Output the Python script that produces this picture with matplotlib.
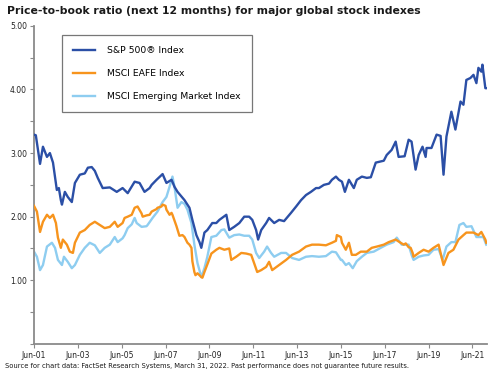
import matplotlib
matplotlib.use("Agg")
import matplotlib.pyplot as plt

# months since Jun-2001
sp_m = [0, 1, 3.3, 4.9, 7.1, 8.7, 10.4, 12.5, 13.6, 14.7, 15.3, 16.9, 18.5, 20.7, 22.4, 25.1, 27.8, 29.5,
        31.6, 33.3, 34.9, 37.6, 41.5, 45.3, 48.5, 51.3, 55.1, 57.8, 60.5, 63.3, 64.4, 67.1, 70.4, 72.5,
        75.3, 76.9, 78.6, 82.4, 85.1, 86.7, 88.9, 90.6, 91.6, 93.3, 94.9, 97.6, 99.8, 101.5, 105.3, 106.9,
        109.6, 112.4, 115.1, 117.8, 119.5, 121.6, 122.7, 124.4, 127.1, 128.7, 131.5, 134.2, 136.9, 140.7,
        143.5, 146.2, 148.9, 151.6, 154.4, 156, 158.7, 161.5, 163.1, 165.3, 166.9, 168.6, 170.2, 172.4,
        175.1, 176.7, 179.5, 182.2, 184.4, 187.1, 191.5, 193.1, 195.8, 198, 199.6, 202.9, 205.1, 206.7,
        208.9, 210.6, 212.7, 214.4, 214.9, 217.6, 220.4, 222.6, 224.2, 225.8, 228.5, 230.7, 233.5, 235.1,
        236.7, 238.9, 240.6, 242.2, 243.3, 244.9, 245.5, 247.1, 247.6]
sp_v = [3.29, 3.28, 2.83, 3.10, 2.94, 3.00, 2.85, 2.42, 2.45, 2.26, 2.19, 2.39, 2.31, 2.23, 2.53, 2.66, 2.68, 2.77,
        2.78, 2.72, 2.61, 2.45, 2.46, 2.39, 2.45, 2.37, 2.55, 2.53, 2.39, 2.45, 2.50, 2.58, 2.67, 2.53,
        2.58, 2.47, 2.39, 2.26, 2.14, 1.95, 1.71, 1.60, 1.51, 1.75, 1.79, 1.90, 1.90, 1.95, 2.03, 1.79,
        1.84, 1.90, 2.00, 2.00, 1.95, 1.79, 1.64, 1.79, 1.90, 1.98, 1.90, 1.95, 1.93, 2.06,
        2.16, 2.26, 2.34, 2.39, 2.45, 2.45, 2.50, 2.52, 2.58, 2.63, 2.58, 2.55, 2.39, 2.58,
        2.45, 2.58, 2.63, 2.61, 2.62, 2.85, 2.88, 2.97, 3.05, 3.18, 2.94, 2.95, 3.21, 3.18,
        2.74, 2.97, 3.10, 2.94, 3.08, 3.08, 3.29, 3.27, 2.66, 3.26, 3.65, 3.37, 3.81, 3.76,
        4.15, 4.18, 4.23, 4.10, 4.34, 4.28, 4.39, 4.02, 4.02]

eafe_m = [0, 1.6, 3.3, 4.9, 7.1, 8.7, 10.4, 12, 13.1, 14.7, 15.8, 18, 19.6, 21.3, 22.4, 25.1, 27.8, 30.5,
          33.3, 36, 38.7, 41.5, 44.2, 45.8, 48.5, 49.6, 51.3, 53.5, 55.1, 56.7, 58.9, 59.5, 61.6, 63.3, 64.4,
          67.1, 67.6, 69.8, 70.4, 72, 72.5, 74.2, 75.3, 75.8, 78, 79.6, 81.3, 82.4, 84, 85.1, 86.2, 86.7, 87.8,
          88.4, 89.5, 90.6, 91.6, 92.2, 93.3, 94.9, 97.1, 99.8, 101.5, 104.2, 106.9, 108, 110.7, 113.5, 116.2,
          118.9, 120.5, 122.2, 124.4, 127.1, 128.7, 130.4, 134.2, 138, 141.3, 145.1, 148.9, 152.2, 156,
          159.8, 163.1, 165.3, 165.8, 168, 168.6, 170.7, 172.4, 174, 176.2, 178.9, 182.2, 184.9, 187.7,
          191.5, 194.2, 198, 200.7, 202.4, 203.5, 205.1, 206.2, 207.3, 207.8, 210.6, 213.3, 216, 218.7,
          221.5, 224.2, 226.9, 229.6, 232.4, 235.1, 236.7, 240.6, 243.3, 244.9, 247.1, 247.6]
eafe_v = [2.17, 2.08, 1.76, 1.92, 2.03, 1.98, 2.03, 1.90, 1.67, 1.51, 1.64, 1.56, 1.45, 1.43, 1.59, 1.75, 1.79, 1.87,
          1.92, 1.87, 1.82, 1.84, 1.92, 1.84, 1.90, 1.98, 2.00, 2.03, 2.14, 2.16, 2.05, 2.00, 2.02, 2.03, 2.08,
          2.12, 2.14, 2.16, 2.19, 2.17, 2.11, 2.03, 2.06, 2.03, 1.85, 1.70, 1.71, 1.68, 1.59, 1.56, 1.51, 1.30,
          1.13, 1.08, 1.11, 1.08, 1.05, 1.04, 1.13, 1.25, 1.42, 1.48, 1.51, 1.48, 1.50, 1.32, 1.37, 1.43, 1.42,
          1.40, 1.27, 1.13, 1.16, 1.21, 1.29, 1.16, 1.24, 1.32, 1.40, 1.45, 1.53, 1.56, 1.56,
          1.55, 1.59, 1.62, 1.71, 1.68, 1.59, 1.48, 1.59, 1.40, 1.40, 1.45, 1.45, 1.51, 1.53,
          1.56, 1.60, 1.64, 1.59, 1.56, 1.58, 1.52, 1.51, 1.43, 1.37, 1.43, 1.48, 1.45, 1.51,
          1.56, 1.24, 1.43, 1.48, 1.64, 1.71, 1.75, 1.75, 1.71, 1.76, 1.64, 1.59]

em_m = [0, 1.6, 3.3, 4.9, 7.1, 9.8, 11.5, 13.1, 15.3, 16.4, 18.5, 20.7, 22.4, 25.1, 27.8, 30.5, 33.3, 36,
        38.7, 41.5, 44.2, 45.8, 48.5, 49.6, 51.3, 53.5, 55.1, 56.2, 58.9, 61.6, 62.2, 64.9, 67.6, 70.4,
        72.5, 74.2, 75.8, 76.9, 78.6, 80.7, 82.4, 84, 86.2, 87.8, 89.5, 91.6, 93.3, 94.9, 97.1, 99.8,
        102.6, 104.2, 106.9, 109.6, 112.4, 115.1, 117.8, 119.5, 121.6, 123.3, 126, 127.6, 129.8, 131.5,
        135.3, 138, 141.3, 145.1, 148.9, 152.2, 156, 159.8, 163.1, 165.3, 168, 168.6, 170.7, 172.4,
        174.5, 176.7, 179.5, 182.2, 186, 189.8, 193.1, 196.9, 198.6, 201.3, 204, 205.1, 206.7, 207.8,
        210.6, 213.3, 216, 218.7, 221.5, 223.7, 225.8, 228.5, 230.7, 232.9, 235.1, 236.7, 239.5, 242.2,
        244.4, 246, 247.6]
em_v = [1.45, 1.37, 1.16, 1.24, 1.53, 1.59, 1.51, 1.32, 1.24, 1.37, 1.29, 1.19, 1.24, 1.40, 1.51, 1.59, 1.55, 1.43,
        1.51, 1.56, 1.68, 1.60, 1.66, 1.71, 1.82, 1.88, 1.98, 1.90, 1.84, 1.85, 1.87, 1.98, 2.08, 2.23,
        2.31, 2.47, 2.63, 2.47, 2.14, 2.23, 2.20, 2.11, 1.90, 1.56, 1.27, 1.05, 1.19, 1.37, 1.68, 1.70,
        1.79, 1.80, 1.67, 1.71, 1.72, 1.70, 1.70, 1.64, 1.43, 1.35, 1.45, 1.53, 1.43, 1.37,
        1.43, 1.43, 1.35, 1.32, 1.37, 1.38, 1.37, 1.38, 1.45, 1.44, 1.32, 1.32, 1.24, 1.27,
        1.19, 1.30, 1.37, 1.43, 1.45, 1.51, 1.56, 1.60, 1.67, 1.56, 1.56, 1.56, 1.40, 1.32,
        1.37, 1.39, 1.40, 1.48, 1.49, 1.32, 1.53, 1.60, 1.60, 1.87, 1.90, 1.84, 1.85, 1.68,
        1.68, 1.68, 1.56]

xtick_pos = [0, 24, 48, 72, 96, 120, 144, 168, 192, 216, 240]
xtick_labels = ["Jun-01", "Jun-03", "Jun-05", "Jun-07", "Jun-09", "Jun-11", "Jun-13",
                "Jun-15", "Jun-17", "Jun-19", "Jun-21"]
ytick_pos = [0, 0.5, 1, 1.5, 2, 2.5, 3, 3.5, 4, 4.5, 5]
ytick_labels = ["", "", "1.00", "", "2.00", "", "3.00", "", "4.00", "", "5.00"]

labels = ["S&P 500\u00ae Index", "MSCI EAFE Index", "MSCI Emerging Market Index"]
colors = ["#2b4fa6", "#f7941d", "#8ecdf0"]

plt.rcParams['font.family'] = ['DejaVu Sans']
fig = plt.figure(figsize=(5, 3.75), dpi=100)
ax = fig.add_axes([0.068, 0.083, 0.906, 0.848])

ax.plot(sp_m, sp_v, color=colors[0], lw=1.7, label=labels[0], zorder=4)
ax.plot(eafe_m, eafe_v, color=colors[1], lw=1.7, label=labels[1], zorder=3)
ax.plot(em_m, em_v, color=colors[2], lw=1.7, label=labels[2], zorder=2)

ax.set_xlim(0, 248)
ax.set_ylim(0, 5)
ax.set_xticks(xtick_pos)
ax.set_xticklabels(xtick_labels)
ax.set_yticks(ytick_pos)
ax.set_yticklabels(ytick_labels)
for s in ["top", "right"]:
    ax.spines[s].set_visible(False)
for s in ["left", "bottom"]:
    ax.spines[s].set_color("#8a8a8a")
    ax.spines[s].set_linewidth(1.3)
ax.tick_params(axis="both", colors="#8a8a8a", labelcolor="#222222", labelsize=5.5, length=3, width=0.8, pad=2)

leg = ax.legend(loc="upper left", bbox_to_anchor=(0.062, 0.972), fontsize=6.7, frameon=True,
                fancybox=False, edgecolor="#555555", handlelength=2.3, handletextpad=1.3,
                labelspacing=1.5, borderpad=1.2, borderaxespad=0)
leg.get_frame().set_linewidth(0.9)

fig.text(0.014, 0.97, "Price-to-book ratio (next 12 months) for major global stock indexes",
         fontsize=7.8, fontweight="bold", color="#1a1a1a", va="center", ha="left")
fig.text(0.01, 0.024, "Source for chart data: FactSet Research Systems, March 31, 2022. Past performance does not guarantee future results.",
         fontsize=4.9, color="#1a1a1a", va="center", ha="left")

fig.savefig("out.png", dpi=100)
